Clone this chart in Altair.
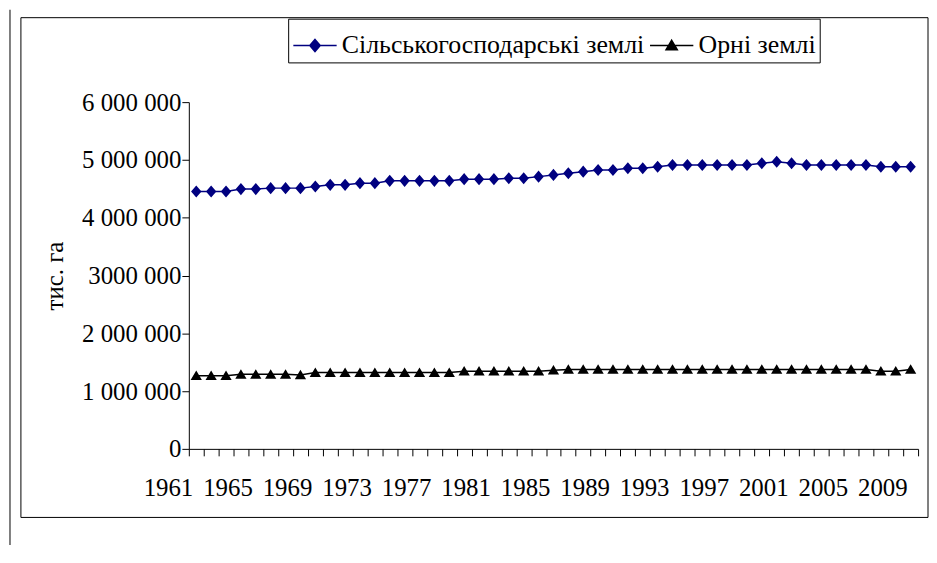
import altair as alt
import pandas as pd

years = list(range(1961, 2010))
agricultural = [4454000, 4454000, 4454000, 4495000, 4495000, 4512000, 4512000, 4512000,
                4540000, 4569000, 4569000, 4598000, 4598000, 4638000, 4638000, 4638000,
                4638000, 4638000, 4667000, 4667000, 4667000, 4684000, 4684000, 4711000,
                4741000, 4770000, 4797000, 4826000, 4826000, 4856000, 4856000, 4883000,
                4912000, 4912000, 4912000, 4912000, 4912000, 4912000, 4942000, 4969000,
                4942000, 4912000, 4912000, 4912000, 4912000, 4912000, 4883000, 4883000,
                4883000]
arable = [1265000, 1265000, 1265000, 1290000, 1290000, 1290000, 1290000, 1280000,
          1320000, 1320000, 1320000, 1320000, 1320000, 1320000, 1320000, 1320000,
          1320000, 1320000, 1345000, 1345000, 1345000, 1345000, 1345000, 1345000,
          1360000, 1375000, 1375000, 1375000, 1375000, 1375000, 1375000, 1375000,
          1375000, 1375000, 1375000, 1375000, 1375000, 1375000, 1375000, 1375000,
          1375000, 1375000, 1375000, 1375000, 1375000, 1375000, 1345000, 1345000,
          1375000]
series_names = ["Сільськогосподарські землі", "Орні землі"]
series_colors = ["#000080", "#000000"]
y_tick_values = [0, 1000000, 2000000, 3000000, 4000000, 5000000, 6000000]
y_tick_labels = ["0", "1 000 000", "2 000 000", "3000 000", "4 000 000", "5 000 000", "6 000 000"]
x_label_years = list(range(1961, 2010, 4))
y_title = "тис. га"

rows = []
for yr, a, b in zip(years, agricultural, arable):
    rows.append({"year": yr, "series": series_names[0], "value": a})
    rows.append({"year": yr, "series": series_names[1], "value": b})
df = pd.DataFrame(rows)

# category boundaries (ticks sit between the years, as on a category axis)
x_tick_values = [y - 0.5 for y in years] + [years[-1] + 0.5]

diamond = "M-1,0L1,0M0,-0.28L0.24,0L0,0.28L-0.24,0Z"
triangle = "M-1,0L1,0M0,-0.24L0.26,0.2L-0.26,0.2Z"

FONT = "Liberation Serif"
y_expr = " : ".join(f"datum.value == {v} ? '{l}'" for v, l in zip(y_tick_values, y_tick_labels)) + " : ''"
x_expr = ("indexof([" + ",".join(str(v) for v in x_label_years) +
          "], datum.value + 0.5) >= 0 ? toString(datum.value + 0.5) : ''")

x_enc = alt.X(
    "year:Q",
    scale=alt.Scale(domain=[years[0] - 0.5, years[-1] + 0.5], nice=False, zero=False),
    axis=alt.Axis(
        values=x_tick_values, labelExpr=x_expr, labelOverlap=False, grid=False,
        tickSize=7, tickColor="black", domainColor="black", labelPadding=20,
        labelOffset=-21, labelFont=FONT, labelFontSize=25, labelColor="black",
        labelFlush=False, title=None,
    ),
)
y_enc = alt.Y(
    "value:Q",
    scale=alt.Scale(domain=[0, 6000000], nice=False),
    axis=alt.Axis(
        values=y_tick_values, labelExpr=y_expr, grid=False, tickSize=7,
        tickColor="black", domainColor="black", labelPadding=1,
        labelFont=FONT, labelFontSize=25, labelColor="black",
        title=y_title, titleFont=FONT, titleFontSize=25, titleFontWeight="normal",
        titleColor="black", titlePadding=14,
    ),
)

color_scale = alt.Scale(domain=series_names, range=series_colors)
legend = alt.Legend(
    title=None, orient="none", legendX=100, legendY=-84, direction="horizontal",
    labelFont=FONT, labelFontSize=26, labelColor="black", labelLimit=1000,
    symbolStrokeWidth=1.5, strokeColor="black", fillColor="white",
    padding=4, columnPadding=2, labelOffset=4, symbolSize=1900, symbolOpacity=1,
)

lines = alt.Chart(df).mark_line(strokeWidth=1.5).encode(
    x=x_enc, y=y_enc,
    stroke=alt.Stroke("series:N", scale=color_scale, legend=legend),
)
points = alt.Chart(df).mark_point(filled=True, size=1900, opacity=1).encode(
    x=x_enc, y=y_enc,
    shape=alt.Shape("series:N", scale=alt.Scale(domain=series_names, range=[diamond, triangle]), legend=legend),
    fill=alt.Fill("series:N", scale=color_scale, legend=legend),
)

frame_data = alt.InlineData(values=[{"k": 1}])
frame = alt.Chart(frame_data).mark_rect(fillOpacity=0, stroke="black", strokeWidth=1).encode(
    x=alt.value(-169), x2=alt.value(744), y=alt.value(-85), y2=alt.value(418)
)
side = alt.Chart(frame_data).mark_rule(stroke="black", strokeWidth=1).encode(
    x=alt.value(-180), y=alt.value(-93), y2=alt.value(449)
)

chart = alt.layer(frame, side, lines, points).properties(
    width=734, height=349,
    padding={"left": 182, "top": 93, "right": 11, "bottom": 95},
    autosize="none",
    background="white",
).configure_view(stroke="transparent")

chart.save("out.html", embed_options={"renderer": "svg", "actions": False})
